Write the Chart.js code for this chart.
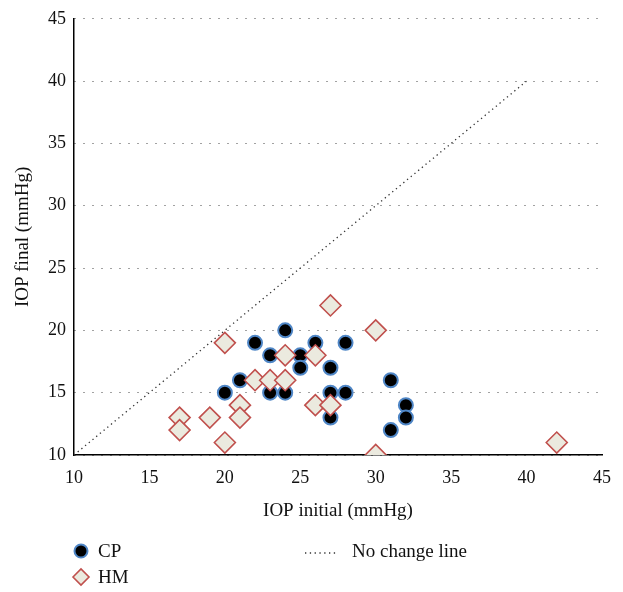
<!DOCTYPE html>
<html lang="en">
<head>
<meta charset="UTF-8">
<title>IOP initial vs final</title>
<style>
  html, body { margin: 0; padding: 0; background: #fff; }
  #wrap { width: 623px; height: 592px; position: relative; }
</style>
</head>
<body>
<div id="wrap"><canvas id="iopChart" width="623" height="592"></canvas></div>
<script src="https://cdn.jsdelivr.net/npm/chart.js"></script>
<script>
// CP group: initial / final IOP (mmHg)
const cpInitial = [24, 22, 26, 28, 23, 25, 25, 27, 21, 31, 20, 23, 24, 27, 28, 32, 27, 32, 31];
const cpFinal   = [20, 19, 19, 19, 18, 18, 17, 17, 16, 16, 15, 15, 15, 15, 15, 14, 13, 13, 12];

// HM group
const hmInitial = [27, 30, 20, 24, 26, 22, 23, 24, 21, 26, 27, 17, 19, 21, 17, 20, 30, 42];
const hmFinal   = [22, 20, 19, 18, 18, 16, 16, 16, 14, 14, 14, 13, 13, 13, 12, 11, 10, 11];

// no change line endpoints
const lineX = [10, 40];
const lineY = [10, 40];

const xTicks = [10, 15, 20, 25, 30, 35, 40, 45];
const yTicks = [10, 15, 20, 25, 30, 35, 40, 45];

const FONT = 'Liberation Serif';

function toPoints(xs, ys) {
    return xs.map((x, i) => ({ x: x, y: ys[i] }));
}

const cpStyle = { pointStyle: 'circle', radius: 7, fill: '#000000', border: '#4f86c6', width: 2 };
const hmStyle = { pointStyle: 'rectRot', radius: 10.5, fill: '#ebeadf', border: '#c0504d', width: 1.6 };

// legend drawn under the plot in two columns
const legendPlugin = {
    id: 'bottomLegend',
    afterDraw(chart) {
        const ctx = chart.ctx;
        const h = Chart.helpers;
        ctx.save();
        ctx.font = '19px "' + FONT + '"';
        ctx.textBaseline = 'middle';

        ctx.fillStyle = cpStyle.fill;
        ctx.strokeStyle = cpStyle.border;
        ctx.lineWidth = cpStyle.width;
        h.drawPoint(ctx, { pointStyle: 'circle', radius: 6.5, borderWidth: cpStyle.width }, 81, 551);
        ctx.fillStyle = hmStyle.fill;
        ctx.strokeStyle = hmStyle.border;
        ctx.lineWidth = hmStyle.width;
        h.drawPoint(ctx, { pointStyle: 'rectRot', radius: 8, borderWidth: hmStyle.width }, 81, 577);

        ctx.fillStyle = '#111';
        ctx.fillText('CP', 98, 552);
        ctx.fillText('HM', 98, 578);

        ctx.strokeStyle = '#333';
        ctx.lineWidth = 1.3;
        ctx.setLineDash([1.3, 3.5]);
        ctx.beginPath();
        ctx.moveTo(305, 553);
        ctx.lineTo(338, 553);
        ctx.stroke();
        ctx.setLineDash([]);
        ctx.fillText('No change line', 352, 552);
        ctx.restore();
    }
};

const config = {
    type: 'scatter',
    data: {
        datasets: [
            {
                label: 'HM',
                data: toPoints(hmInitial, hmFinal),
                pointStyle: hmStyle.pointStyle,
                pointRadius: hmStyle.radius,
                pointHoverRadius: hmStyle.radius,
                backgroundColor: hmStyle.fill,
                borderColor: hmStyle.border,
                borderWidth: hmStyle.width,
                order: 0
            },
            {
                label: 'CP',
                data: toPoints(cpInitial, cpFinal),
                pointStyle: cpStyle.pointStyle,
                pointRadius: cpStyle.radius,
                pointHoverRadius: cpStyle.radius,
                backgroundColor: cpStyle.fill,
                borderColor: cpStyle.border,
                borderWidth: cpStyle.width,
                order: 1
            },
            {
                label: 'No change line',
                type: 'line',
                data: toPoints(lineX, lineY),
                borderColor: '#333',
                borderWidth: 1.3,
                borderDash: [1.3, 3.5],
                pointRadius: 0,
                fill: false,
                order: 2
            }
        ]
    },
    options: {
        responsive: false,
        animation: false,
        layout: { padding: { left: 0, top: 17, right: 20, bottom: 67 } },
        plugins: {
            legend: { display: false },
            tooltip: { enabled: false }
        },
        scales: {
            x: {
                type: 'linear',
                min: 10,
                max: 45,
                afterBuildTicks: s => { s.ticks = xTicks.map(v => ({ value: v })); },
                afterFit: s => { s.height = 70; },
                grid: { display: false, drawTicks: false },
                border: { display: true, color: '#000', width: 1.5 },
                ticks: { color: '#111', padding: 12, font: { family: FONT, size: 18 } },
                title: {
                    display: true,
                    text: 'IOP initial (mmHg)',
                    color: '#111',
                    padding: { top: 6, bottom: 3 },
                    font: { family: FONT, size: 19 }
                }
            },
            y: {
                type: 'linear',
                min: 10,
                max: 45,
                afterBuildTicks: s => { s.ticks = yTicks.map(v => ({ value: v })); },
                afterFit: s => { s.width = 74; },
                grid: {
                    color: '#444',
                    lineWidth: 1,
                    drawTicks: false
                },
                // in v4 border.dash styles the grid lines
                border: { display: true, color: '#000', width: 1.5, dash: [1, 8] },
                ticks: { color: '#111', padding: 8, font: { family: FONT, size: 18 } },
                title: {
                    display: true,
                    text: 'IOP final (mmHg)',
                    color: '#111',
                    padding: { top: 12, bottom: 0 },
                    font: { family: FONT, size: 19 }
                }
            }
        }
    },
    plugins: [legendPlugin]
};

const iopChart = new Chart(document.getElementById('iopChart'), config);
</script>
</body>
</html>
